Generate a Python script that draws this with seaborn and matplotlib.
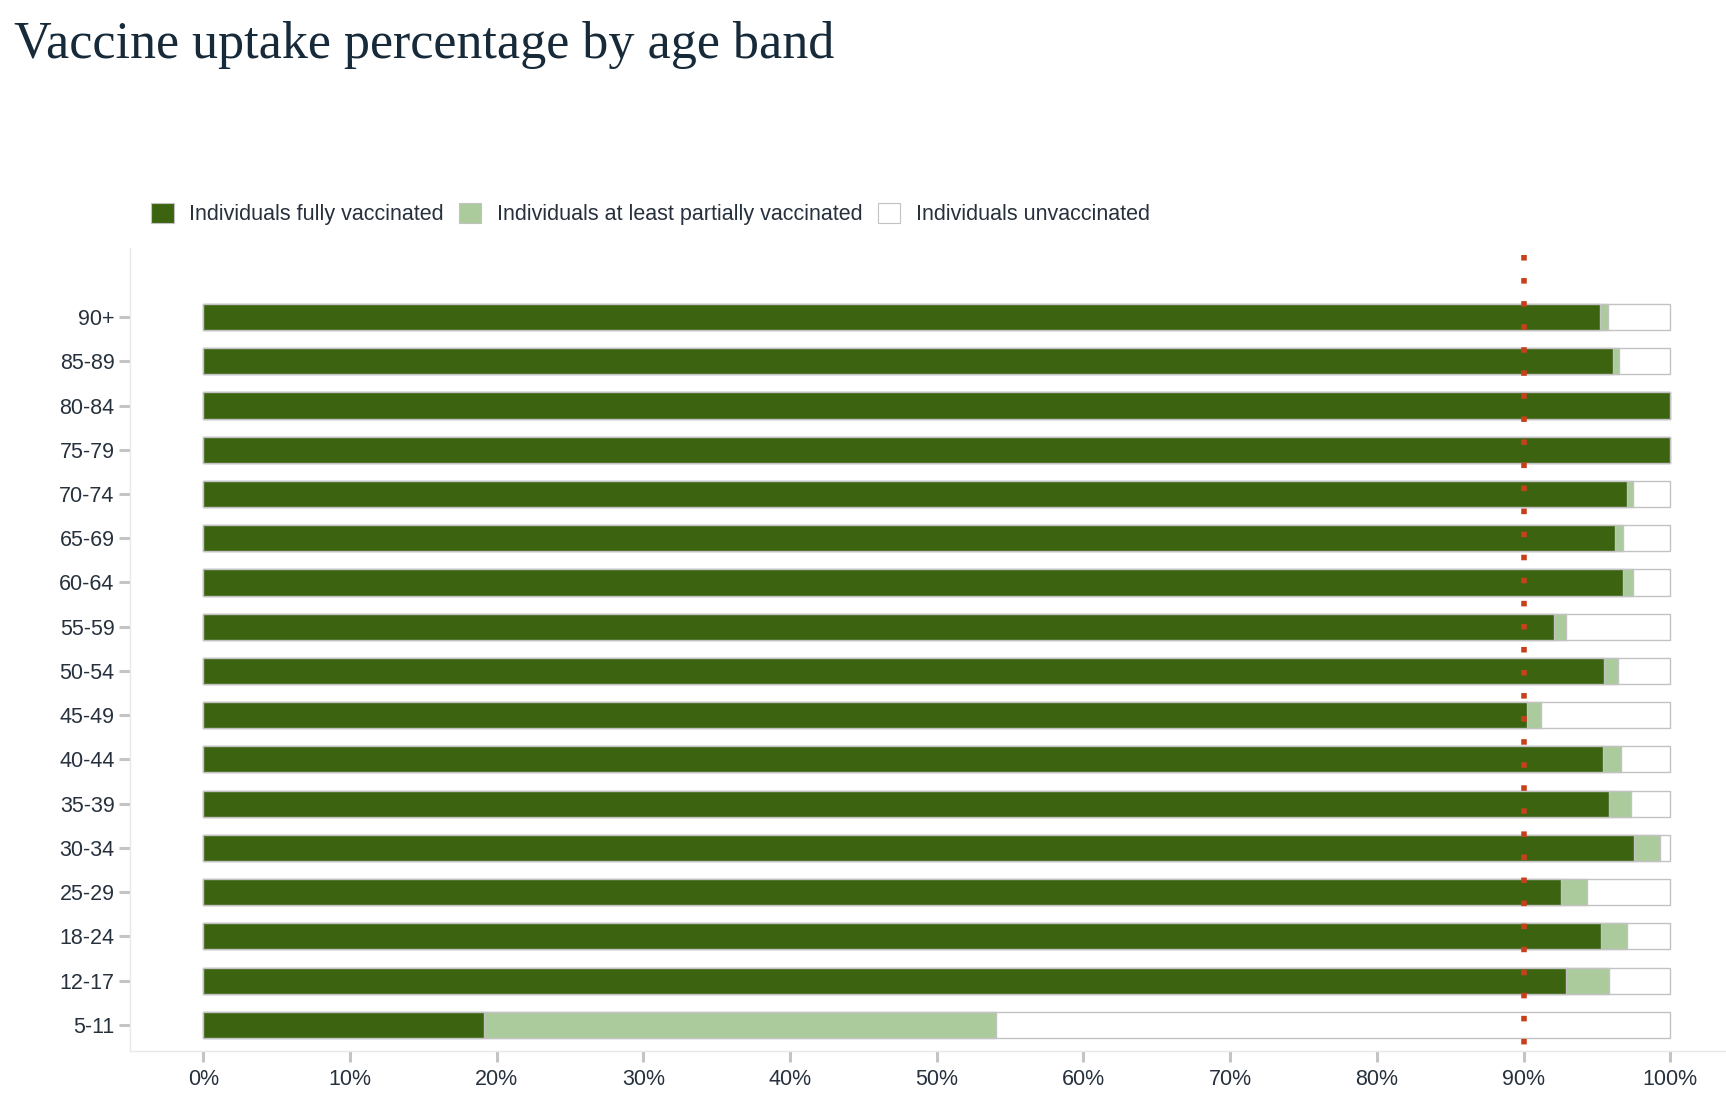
import matplotlib
matplotlib.use("Agg")
import matplotlib.pyplot as plt
from matplotlib.patches import Patch
import seaborn as sns
import pandas as pd

# ---- data ----
age_bands = ["90+", "85-89", "80-84", "75-79", "70-74", "65-69", "60-64", "55-59",
             "50-54", "45-49", "40-44", "35-39", "30-34", "25-29", "18-24", "12-17", "5-11"]
fully_vaccinated = [95.2, 96.1, 100.0, 100.0, 97.05, 96.2, 96.8, 92.1,
                    95.5, 90.2, 95.4, 95.85, 97.55, 92.55, 95.3, 92.9, 19.1]
at_least_partial = [95.75, 96.5, 100.0, 100.0, 97.45, 96.75, 97.45, 92.9,
                    96.45, 91.2, 96.65, 97.3, 99.3, 94.3, 97.05, 95.8, 54.05]
population_total = [100.0] * len(age_bands)
target_pct = 90
x_ticks = [0, 10, 20, 30, 40, 50, 60, 70, 80, 90, 100]
x_tick_labels = [f"{t}%" for t in x_ticks]
legend_labels = ["Individuals fully vaccinated",
                 "Individuals at least partially vaccinated",
                 "Individuals unvaccinated"]
title = "Vaccine uptake percentage by age band"

df = pd.DataFrame({"age": age_bands, "fully": fully_vaccinated,
                   "partial": at_least_partial, "total": population_total})

# ---- style ----
sns.set_style("white")
plt.rcParams["font.family"] = ["Liberation Sans", "DejaVu Sans"]

DARK = "#3b6310"
LIGHT = "#abcb9c"
EDGE = "#c2c2c2"
TXT = "#27313d"

fig = plt.figure(figsize=(17.26, 11.07), dpi=100)
ax = fig.add_axes([130 / 1726, 56 / 1107, 1 - 130 / 1726, (1051 - 248) / 1107])

common = dict(orient="h", errorbar=None, saturation=1, width=0.59,
              edgecolor=EDGE, linewidth=1.0, order=age_bands, ax=ax)
sns.barplot(data=df, x="total", y="age", color="white", **common)
sns.barplot(data=df, x="partial", y="age", color=LIGHT, **common)
sns.barplot(data=df, x="fully", y="age", color=DARK, **common)

ax.vlines(target_pct, -1.40, 16.59, colors="#c8401a", linewidth=4.0,
          linestyles=[(0, (1, 3.15))], zorder=5)

ax.set_xlim(-5, 103.8)
ax.set_ylim(16.59, -1.56)
ax.set_xticks(x_ticks)
ax.set_xticklabels(x_tick_labels)
ax.set_xlabel("")
ax.set_ylabel("")

for s in ["top", "right"]:
    ax.spines[s].set_visible(False)
for s in ["left", "bottom"]:
    ax.spines[s].set_color("#e8e8e8")
    ax.spines[s].set_linewidth(1.0)

ax.tick_params(axis="both", which="major", length=8, width=2.2, color="#c4c4c4",
               labelsize=15.5, labelcolor=TXT, direction="out")
ax.tick_params(axis="y", pad=3)
ax.tick_params(axis="x", pad=5, bottom=True)
ax.tick_params(axis="y", left=True)

fig.text(14 / 1726, 1 - 58 / 1107, title, family=["Liberation Serif", "DejaVu Serif"],
         fontsize=37.5, color="#172a3a", ha="left", va="baseline")

handles = [Patch(facecolor=DARK, edgecolor=EDGE, linewidth=0.8),
           Patch(facecolor=LIGHT, edgecolor=EDGE, linewidth=0.8),
           Patch(facecolor="white", edgecolor=EDGE, linewidth=0.8)]
fig.legend(handles, legend_labels, loc="center left",
           bbox_to_anchor=(151 / 1726, 1 - 214 / 1107), ncol=3, frameon=False,
           fontsize=15.5, handlelength=1.05, handleheight=1.05, handletextpad=0.72,
           columnspacing=0.7, borderpad=0, borderaxespad=0, labelcolor=TXT)

fig.savefig("out.png", dpi=100, facecolor="white")
